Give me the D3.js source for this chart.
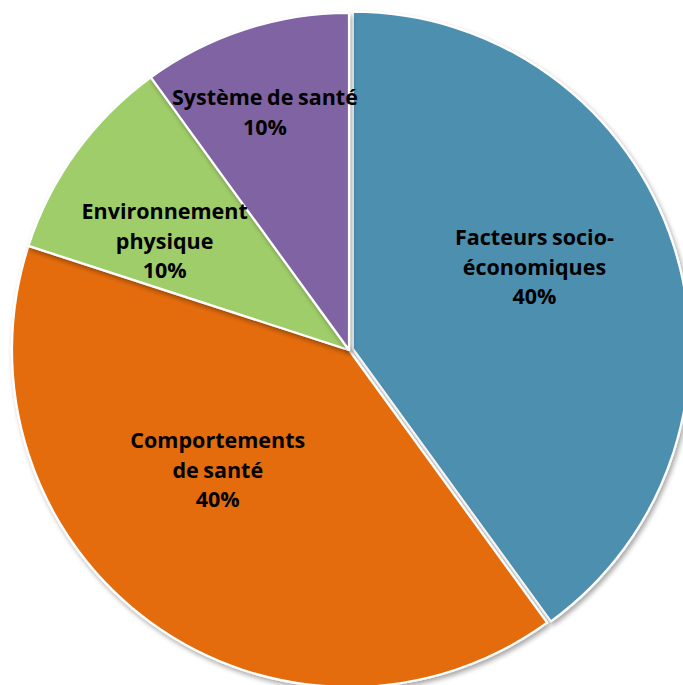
<!DOCTYPE html>
<html><head><meta charset="utf-8">
<script src="https://cdn.jsdelivr.net/npm/d3@7"></script>
<style>html,body{margin:0;padding:0;background:#fff;overflow:hidden}</style>
</head><body>
<svg id="c" width="683" height="685"></svg>
<script>
const categories = ["Facteurs socio-économiques","Comportements de santé","Environnement physique","Système de santé"];
const values = [40, 40, 10, 10];
const labelLines = [["Facteurs socio-","économiques","40%"],["Comportements","de santé","40%"],["Environnement","physique","10%"],["Système de santé","10%"]];
const colors = ["#4E8FAF","#E46C0A","#9FCD69","#8064A2"];
const explode = [4, 0, 0, 0];
const labelRadius = [203, 178, 214, 252];
const labelAngleShift = [-6, 11.5, -5.5, -1.5];

const svg = d3.select("#c");
const cx = 349, cy = 350, R = 337;
const defs = svg.append("defs");
const f = defs.append("filter").attr("id","sh").attr("x","-10%").attr("y","-10%").attr("width","120%").attr("height","120%");
f.append("feGaussianBlur").attr("in","SourceAlpha").attr("stdDeviation",2.5);
f.append("feOffset").attr("dx",2).attr("dy",3).attr("result","o");
f.append("feComponentTransfer").append("feFuncA").attr("type","linear").attr("slope",0.35);
const m = f.append("feMerge"); m.append("feMergeNode"); m.append("feMergeNode").attr("in","SourceGraphic");

const pie = d3.pie().sort(null).value(d=>d);
const arcs = pie(values);
const arc = d3.arc().innerRadius(0).outerRadius(R);
const g = svg.append("g").attr("transform",`translate(${cx},${cy})`);
g.selectAll("path").data(arcs).join("path")
  .attr("d", arc)
  .attr("fill",(d,i)=>colors[i])
  .attr("stroke","#fff").attr("stroke-width",2.2).attr("stroke-linejoin","round")
  .attr("filter","url(#sh)")
  .attr("transform",(d,i)=>{const a=(d.startAngle+d.endAngle)/2;return `translate(${Math.sin(a)*explode[i]},${-Math.cos(a)*explode[i]})`;});

const lh = 29.5;
arcs.forEach((d,i)=>{
  const a=(d.startAngle+d.endAngle)/2 + labelAngleShift[i]*Math.PI/180;
  const x=Math.sin(a)*labelRadius[i], y=-Math.cos(a)*labelRadius[i];
  const lines=labelLines[i];
  const t=g.append("text").attr("x",x).attr("y",y)
    .attr("text-anchor","middle").attr("font-family","'Open Sans', sans-serif")
    .attr("font-weight","bold").attr("font-size",21.5).attr("fill","#000")
    .attr("letter-spacing","0").attr("word-spacing","-1");
  lines.forEach((l,j)=>{
    t.append("tspan").attr("x",x).attr("y",y+(j-(lines.length-1)/2)*lh).attr("dy","0.35em").text(l);
  });
});
</script>
</body></html>
